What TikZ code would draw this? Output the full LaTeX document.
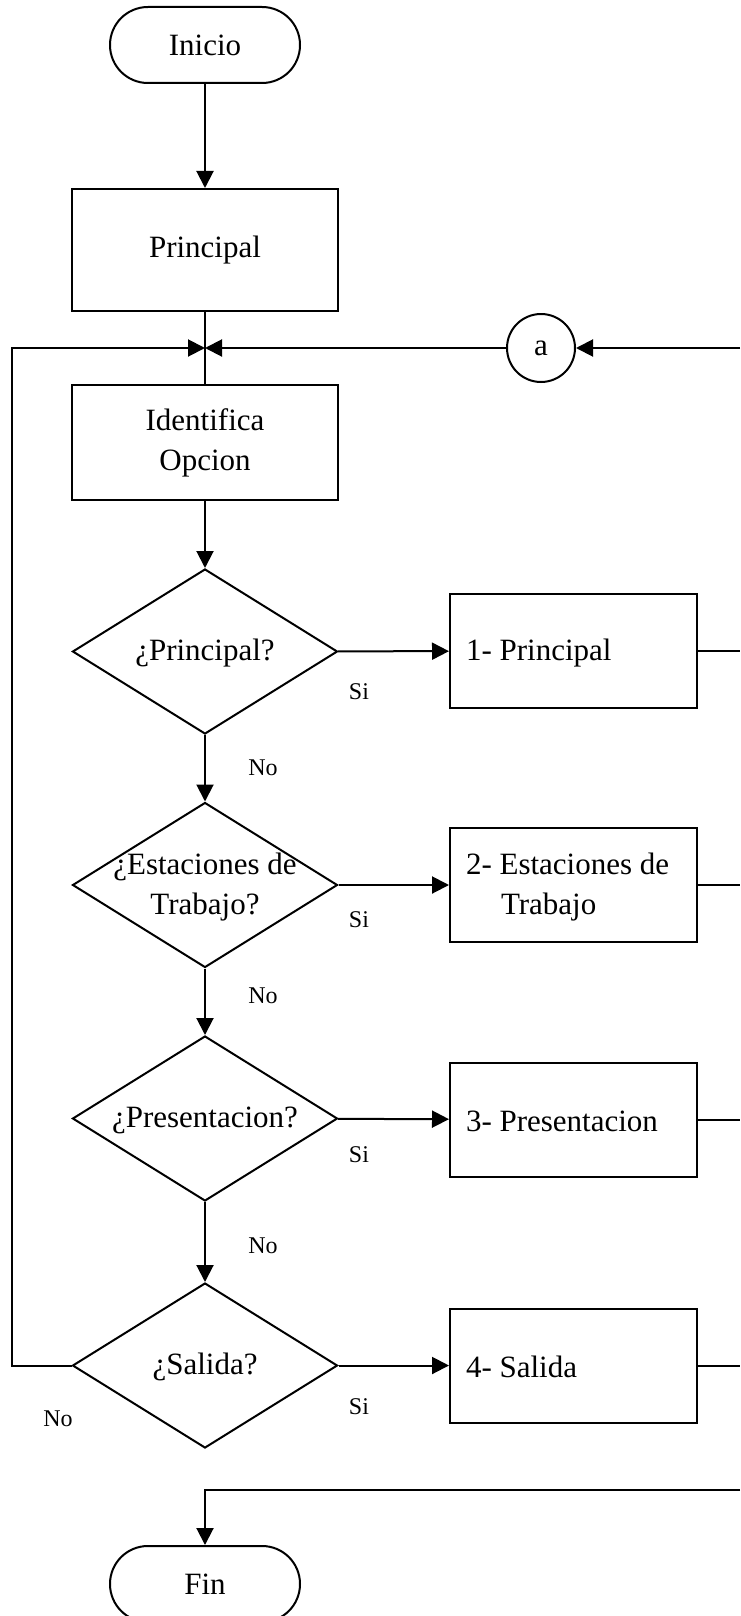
\documentclass[tikz,border=0pt]{standalone}
\usepackage{fontspec}
\setmainfont{Liberation Serif}
\usetikzlibrary{arrows.meta,shapes.geometric}
\begin{document}
\begin{tikzpicture}[x=1pt,y=-1pt,
  line width=2pt,
  big/.style={font=\fontsize{31}{40}\selectfont},
  small/.style={font=\fontsize{24}{28}\selectfont},
  term/.style={draw,rounded corners=37.9pt,minimum width=190pt,minimum height=76pt,inner sep=0pt,big},
  procbox/.style={draw,minimum width=266pt,minimum height=#1,inner sep=0pt,big,align=center},
  optbox/.style={draw,minimum width=247pt,minimum height=114pt,inner sep=0pt},
  optext/.style={big,align=left,anchor=west,inner sep=0pt},
  dec/.style={draw,diamond,minimum width=265pt,minimum height=165pt,inner sep=0pt},
  dectext/.style={big,align=center,inner sep=0pt},
  conn/.style={draw,circle,minimum size=68pt,inner sep=0pt,big},
  arr/.style={-{Triangle[length=17pt,width=17pt]}},
  lbl/.style={small,inner sep=0pt}
]
\useasboundingbox (0,0) rectangle (740,1616);
% nodes
\node[term] (ini) at (205,45) {Inicio};
\node[procbox=122pt] (pri) at (205,250) {Principal};
\node[procbox=115pt] (ide) at (205,442.5) {Identifica\\Opcion};
\node[conn] (a) at (541,348) {a};

\node[dec] (d1) at (205,651.5) {};
\node[dectext] (d1t) at (205,653) {¿Principal?};
\node[dec] (d2) at (205,885) {};
\node[dectext] (d2t) at (205,887) {¿Estaciones de\\Trabajo?};
\node[dec] (d3) at (205,1118.5) {};
\node[dectext] (d3t) at (205,1120) {¿Presentacion?};
\node[dec] (d4) at (205,1365.5) {};
\node[dectext] (d4t) at (205,1367) {¿Salida?};

\node[optbox] (b1) at (573.5,651) {};
\node[optext] (b1t) at (465,653) {1- Principal};
\node[optbox] (b2) at (573.5,885) {};
\node[optext] (b2t) at (465,887) {2- Estaciones de\\\hspace*{35pt}Trabajo};
\node[optbox] (b3) at (573.5,1119.5) {};
\node[optext] (b3t) at (465,1121) {3- Presentacion};
\node[optbox] (b4) at (573.5,1365.5) {};
\node[optext] (b4t) at (465,1367) {4- Salida};

\node[term] (fin) at (205,1584) {Fin};

% labels
\node[lbl] (s1) at (359,692) {Si};
\node[lbl] (n1) at (263,768) {No};
\node[lbl] (s2) at (359,920) {Si};
\node[lbl] (n2) at (263,996) {No};
\node[lbl] (s3) at (359,1155) {Si};
\node[lbl] (n3) at (263,1246) {No};
\node[lbl] (s4) at (359,1407) {Si};
\node[lbl] (n4) at (58,1419) {No};

% coordinates
\coordinate (m) at (205,348);
\coordinate (L) at (12,1365.5);
\coordinate (Ra) at (740,348);
\coordinate (Rf) at (740,1490);
\coordinate (r1) at (740,651);
\coordinate (r2) at (740,885);
\coordinate (r3) at (740,1119.5);
\coordinate (r4) at (740,1365.5);

% connectors
\draw[arr] (ini) -- (pri);
\draw (pri) -- (ide);
\draw[arr] (ide) -- (d1);
\draw[arr] (d1) -- (d2);
\draw[arr] (d2) -- (d3);
\draw[arr] (d3) -- (d4);
\draw[arr] (d1) -- (b1);
\draw[arr] (d2) -- (b2);
\draw[arr] (d3) -- (b3);
\draw[arr] (d4) -- (b4);
\draw (b1) -- (r1);
\draw (b2) -- (r2);
\draw (b3) -- (r3);
\draw (b4) -- (r4);
\draw[arr] (d4.west) -- (L) |- (m);
\draw[arr] (Ra) -- (a);
\draw[arr] (a) -- (m);
\draw[arr] (Rf) -| (fin.north);
\end{tikzpicture}
\end{document}
